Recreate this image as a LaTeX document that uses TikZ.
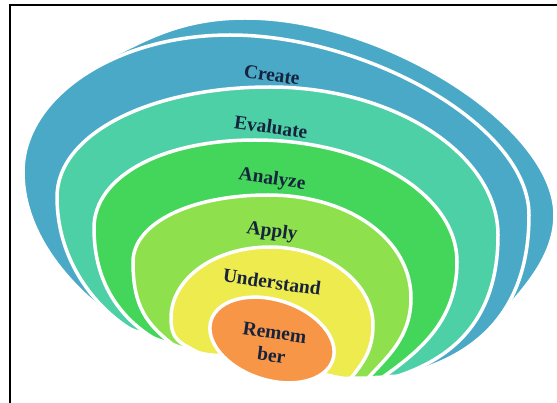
\documentclass[tikz,border=0pt]{standalone}
\usepackage{fontspec}
\setmainfont{Liberation Serif}
\definecolor{cblue}{HTML}{4BA9C8}
\definecolor{cteal}{HTML}{4DD0A6}
\definecolor{cgreen}{HTML}{44D65A}
\definecolor{clight}{HTML}{8EE04C}
\definecolor{cyellow}{HTML}{EEEB4E}
\definecolor{corange}{HTML}{F79646}
\definecolor{cnavy}{HTML}{17233D}
\tikzset{
  band/.style={fill=#1, draw=white, line width=3.5pt, line join=round},
  lbl/.style={font=\fontsize{19.5}{23}\selectfont\bfseries, text=cnavy, rotate=-8, inner sep=0pt, align=center},
}
\begin{document}
\begin{tikzpicture}[x=1pt,y=-1pt]
\useasboundingbox (0,0) rectangle (557,403);
\fill[white] (0,0) rectangle (557,403);
% tail points
\coordinate (T1L) at (127,327); \coordinate (T1R) at (398,376);
\coordinate (T2L) at (150,336); \coordinate (T2R) at (383,377);
\coordinate (T3L) at (172,344); \coordinate (T3R) at (368,378);
\coordinate (T4L) at (197,352); \coordinate (T4R) at (351,378);
\coordinate (T5L) at (223,356); \coordinate (T5R) at (322,374);
\coordinate (S0L) at (108,58);  \coordinate (S0R) at (497,320);
% outer swoosh
\path[band=cblue] (S0L) .. controls +(35,-17) and +(-65,0) .. (245,18)
  .. controls +(140,0) and +(0,-88) .. (555,215)
  .. controls +(0,45) and +(22,-26) .. (S0R) -- cycle;
% Create
\path[band=cblue] (T1L) .. controls +(-45,-28) and +(0,70) .. (23,172)
  .. controls +(0,-75) and +(-115,0) .. (230,35)
  .. controls +(135,0) and +(0,-90) .. (529,215)
  .. controls +(0,95) and +(80,-18) .. (T1R) -- cycle;
% Evaluate
\path[band=cteal] (T2L) .. controls +(-10,-5) and +(9,6) .. (T1L)
  .. controls +(-36,-24) and +(0,60) .. (57,197)
  .. controls +(0,-63) and +(-120,0) .. (270,87)
  .. controls +(125,0) and +(0,-80) .. (498,235)
  .. controls +(0,80) and +(60,-20) .. (T1R)
  .. controls +(-6,1) and +(6,-1) .. (T2R) -- cycle;
% Analyze
\path[band=cgreen] (T3L) .. controls +(-9,-3) and +(8,5) .. (T2L)
  .. controls +(-30,-20) and +(0,55) .. (94,228)
  .. controls +(0,-52) and +(-92,0) .. (255,140)
  .. controls +(112,0) and +(0,-68) .. (457,262)
  .. controls +(0,60) and +(35,-25) .. (T2R)
  .. controls +(-6,1) and +(6,-1) .. (T3R) -- cycle;
% Apply
\path[band=clight] (T4L) .. controls +(-9,-3) and +(8,4) .. (T3L)
  .. controls +(-25,-20) and +(0,45) .. (133,262)
  .. controls +(0,-39) and +(-77,0) .. (268,195)
  .. controls +(82,0) and +(0,-58) .. (411,298)
  .. controls +(0,40) and +(18,-20) .. (T3R)
  .. controls +(-6,0) and +(6,0) .. (T4R) -- cycle;
% Understand
\path[band=cyellow] (T5L) .. controls +(-10,-1) and +(8,3) .. (T4L)
  .. controls +(-18,-10) and +(0,22) .. (171,318)
  .. controls +(0,-39) and +(-56,0) .. (270,247)
  .. controls +(57,0) and +(0,-42) .. (373,325)
  .. controls +(0,25) and +(12,-15) .. (T4R)
  .. controls +(-8,2) and +(8,1) .. (T5R) -- cycle;
% Remember
\path[band=corange, rotate around={-18:(272,340)}] (272,340) ellipse [x radius=64pt, y radius=40pt];
% labels
\node[lbl] (create) at (272,75) {Create};
\node[lbl] (evaluate) at (271,127) {Evaluate};
\node[lbl] (analyze) at (272,180) {Analyze};
\node[lbl] (apply) at (272,232) {Apply};
\node[lbl] (understand) at (272,282) {Understand};
\node[lbl] (remember) at (273,344) {Remem\\ber};
% frame
\draw[line width=2.5pt] (10,403) -- (10,5) -- (557,5);
\end{tikzpicture}
\end{document}
